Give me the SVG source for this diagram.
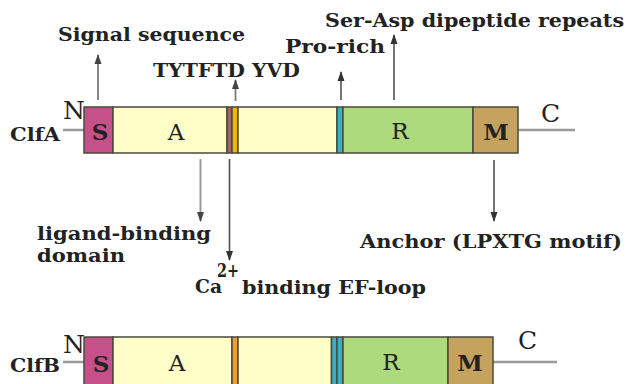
<svg xmlns="http://www.w3.org/2000/svg" width="631" height="384" viewBox="0 0 631 384">
  <style>
    .lbl { font-family: "DejaVu Serif", "Liberation Serif", serif; font-weight: bold; font-size: 19px; fill: #222; }
    .dom { font-family: "DejaVu Serif", "Liberation Serif", serif; font-size: 23px; fill: #222; text-anchor: middle; }
    .term { font-family: "DejaVu Serif", "Liberation Serif", serif; font-size: 25px; fill: #222; }
    .seg { stroke: #4a4a3c; stroke-width: 1.5; }
    .tail { stroke: #9a9a9a; stroke-width: 2.5; fill: none; }
    .arr-dark { stroke: #505050; stroke-width: 1.6; fill: none; marker-end: url(#headDark); }
    .arr-mid { stroke: #7a7a7a; stroke-width: 1.8; fill: none; marker-end: url(#headMid); }
    .arr-light { stroke: #9a9a9a; stroke-width: 2; fill: none; marker-end: url(#headLight); }
  </style>
  <defs>
    <marker id="headDark" markerUnits="userSpaceOnUse" markerWidth="10" markerHeight="10" viewBox="0 0 10 10" refX="9" refY="5" orient="auto">
      <path d="M0,1.5 L10,5 L0,8.5 Z" fill="#333"/>
    </marker>
    <marker id="headMid" markerUnits="userSpaceOnUse" markerWidth="10" markerHeight="10" viewBox="0 0 10 10" refX="9" refY="5" orient="auto">
      <path d="M0,1.5 L10,5 L0,8.5 Z" fill="#444"/>
    </marker>
    <marker id="headLight" markerUnits="userSpaceOnUse" markerWidth="10" markerHeight="10" viewBox="0 0 10 10" refX="9" refY="5" orient="auto">
      <path d="M0,1.5 L10,5 L0,8.5 Z" fill="#444"/>
    </marker>
  </defs>

  <rect width="631" height="384" fill="#ffffff"/>

  <!-- ClfA protein bar -->
  <g id="clfA">
    <line class="tail" x1="63" y1="130" x2="84" y2="130"/>
    <line class="tail" x1="518" y1="130" x2="575" y2="130"/>
    <rect class="seg" x="84" y="107" width="29" height="46" fill="#c5508a"/>
    <rect class="seg" x="113" y="107" width="114" height="46" fill="#fefec8"/>
    <rect class="seg" x="227" y="107" width="5" height="46" fill="#a06464"/>
    <rect class="seg" x="232" y="107" width="6" height="46" fill="#f4b400"/>
    <rect class="seg" x="238" y="107" width="99" height="46" fill="#fefec8"/>
    <rect class="seg" x="337" y="107" width="6" height="46" fill="#3aaec2"/>
    <rect class="seg" x="343" y="107" width="130" height="46" fill="#acda7c"/>
    <rect class="seg" x="473" y="107" width="45" height="46" fill="#c5a35e"/>
    <text class="dom" x="100" y="140" font-weight="bold">S</text>
    <text class="dom" x="176" y="140">A</text>
    <text class="dom" x="400" y="139">R</text>
    <text class="dom" x="496" y="140" font-weight="bold">M</text>
    <text class="term" x="63" y="119">N</text>
    <text class="term" x="541" y="122">C</text>
    <text class="lbl" x="10" y="141" textLength="50" lengthAdjust="spacingAndGlyphs">ClfA</text>
  </g>

  <!-- ClfB protein bar -->
  <g id="clfB">
    <line class="tail" x1="63" y1="362" x2="84" y2="362"/>
    <line class="tail" x1="493" y1="362" x2="557" y2="362"/>
    <rect class="seg" x="84" y="337" width="29" height="52" fill="#c5508a"/>
    <rect class="seg" x="113" y="337" width="119" height="52" fill="#fefec8"/>
    <rect class="seg" x="232" y="337" width="6" height="52" fill="#f59a2c"/>
    <rect class="seg" x="238" y="337" width="93.5" height="52" fill="#fefec8"/>
    <rect class="seg" x="331.5" y="337" width="5.5" height="52" fill="#3aaec2"/>
    <rect class="seg" x="337" y="337" width="6" height="52" fill="#3aaec2"/>
    <rect class="seg" x="343" y="337" width="105" height="52" fill="#acda7c"/>
    <rect class="seg" x="448" y="337" width="45" height="52" fill="#c5a35e"/>
    <text class="dom" x="101" y="372" font-weight="bold">S</text>
    <text class="dom" x="177" y="371">A</text>
    <text class="dom" x="391" y="370">R</text>
    <text class="dom" x="470" y="371" font-weight="bold">M</text>
    <text class="term" x="63" y="353">N</text>
    <text class="term" x="518" y="349">C</text>
    <text class="lbl" x="10" y="372" textLength="50" lengthAdjust="spacingAndGlyphs">ClfB</text>
  </g>

  <!-- feature labels -->
  <g id="label-signal">
    <text class="lbl" x="58" y="41" textLength="187" lengthAdjust="spacingAndGlyphs">Signal sequence</text>
  </g>
  <g id="label-tytf">
    <text class="lbl" x="153" y="77" textLength="147" lengthAdjust="spacingAndGlyphs">TYTFTD YVD</text>
  </g>
  <g id="label-prorich">
    <text class="lbl" x="285" y="53" textLength="100" lengthAdjust="spacingAndGlyphs">Pro-rich</text>
  </g>
  <g id="label-serasp">
    <text class="lbl" x="325" y="27" textLength="299" lengthAdjust="spacingAndGlyphs">Ser-Asp dipeptide repeats</text>
  </g>
  <g id="label-ligand">
    <text class="lbl" x="37" y="240" textLength="174" lengthAdjust="spacingAndGlyphs">ligand-binding</text>
    <text class="lbl" x="37" y="262" textLength="88" lengthAdjust="spacingAndGlyphs">domain</text>
  </g>
  <g id="label-calcium">
    <text class="lbl" x="195" y="293" textLength="27" lengthAdjust="spacingAndGlyphs">Ca</text>
    <text class="lbl" x="217" y="277" font-size="15" textLength="22" lengthAdjust="spacingAndGlyphs">2+</text>
    <text class="lbl" x="242" y="294" textLength="184" lengthAdjust="spacingAndGlyphs">binding EF-loop</text>
  </g>
  <g id="label-anchor">
    <text class="lbl" x="360" y="248" textLength="262" lengthAdjust="spacingAndGlyphs">Anchor (LPXTG motif)</text>
  </g>

  <!-- connectors -->
  <g id="connectors">
    <line class="arr-mid" x1="98" y1="100" x2="98" y2="55"/>
    <line class="arr-mid" x1="235.5" y1="101" x2="235.5" y2="80"/>
    <line class="arr-dark" x1="341" y1="100" x2="341" y2="72"/>
    <line class="arr-dark" x1="394" y1="100" x2="394" y2="35"/>
    <line class="arr-light" x1="200.5" y1="159" x2="200.5" y2="221"/>
    <line class="arr-dark" x1="229.5" y1="159" x2="229.5" y2="260"/>
    <line class="arr-dark" x1="494" y1="160" x2="494" y2="221"/>
  </g>
</svg>
